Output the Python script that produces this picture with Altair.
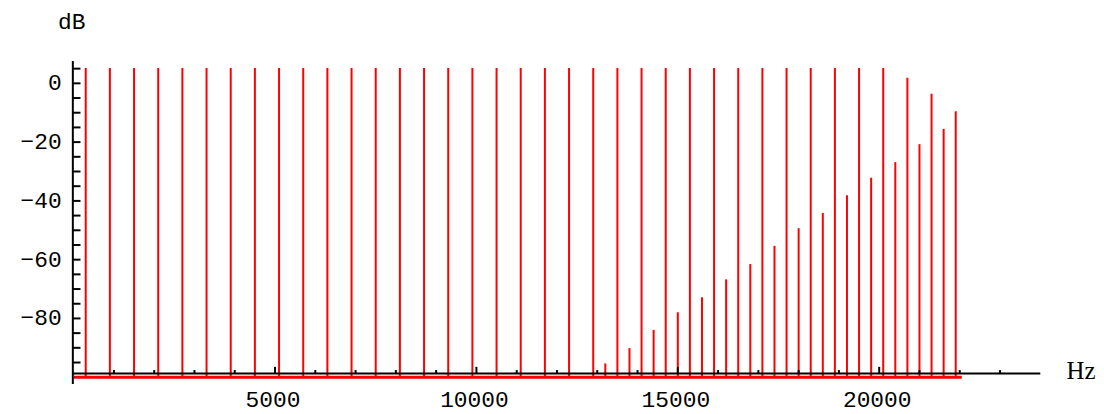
import altair as alt
import pandas as pd

# ---- data ----
main_freq = [300, 900, 1500, 2100, 2700, 3300, 3900, 4500, 5100, 5700,
             6300, 6900, 7500, 8100, 8700, 9300, 9900, 10500, 11100, 11700,
             12300, 12900, 13500, 14100, 14700, 15300, 15900, 16500, 17100,
             17700, 18300, 18900, 19500, 20100, 20700, 21300, 21900]
main_db = [5.2, 5.2, 5.2, 5.2, 5.2, 5.2, 5.2, 5.2, 5.2, 5.2,
           5.2, 5.2, 5.2, 5.2, 5.2, 5.2, 5.2, 5.2, 5.2, 5.2,
           5.2, 5.2, 5.2, 5.2, 5.2, 5.2, 5.2, 5.2, 5.2,
           5.2, 5.2, 5.2, 5.2, 5.2, 1.9, -3.5, -9.5]
alias_freq = [13200, 13800, 14400, 15000, 15600, 16200, 16800, 17400,
              18000, 18600, 19200, 19800, 20400, 21000, 21600]
alias_db = [-95.3, -90.1, -83.9, -77.9, -72.8, -66.7, -61.5, -55.3,
            -49.3, -44.1, -38.1, -32.1, -26.8, -20.7, -15.5]
floor_db = -100.0
nyquist = 22050

x_major = [5000, 10000, 15000, 20000]
x_labels = ["5000", "10000", "15000", "20000"]
x_minor = [1000, 2000, 3000, 4000, 6000, 7000, 8000, 9000, 11000, 12000,
           13000, 14000, 16000, 17000, 18000, 19000, 21000, 22000, 23000]
y_ticks = [5, 0, -5, -10, -15, -20, -25, -30, -35, -40, -45, -50, -55,
           -60, -65, -70, -75, -80, -85, -90, -95]
y_label_vals = [0, -20, -40, -60, -80]
y_label_text = ["0", "\u221220", "\u221240", "\u221260", "\u221280"]

# ---- styling constants ----
axis_y = -98.77
xs = alt.Scale(domain=[0, 24000], nice=False, zero=False)
ys = alt.Scale(domain=[-103, 8], nice=False, zero=False)
RED = "#ff0000"
FONT = "Liberation Mono"

spikes = pd.DataFrame({
    "f": main_freq + alias_freq,
    "db": main_db + alias_db,
    "lo": [floor_db] * (len(main_freq) + len(alias_freq)),
})

base_df = pd.DataFrame({"f0": [0], "f1": [nyquist], "y": [floor_db]})
xaxis_df = pd.DataFrame({"f0": [-20], "f1": [24000], "y": [axis_y]})
yaxis_df = pd.DataFrame({"f": [-20], "y0": [-102.3], "y1": [7.6]})
xmaj_df = pd.DataFrame({"f": x_major, "y0": [axis_y] * 4, "y1": [axis_y + 2.3] * 4, "t": x_labels})
xmin_df = pd.DataFrame({"f": x_minor, "y0": [axis_y] * len(x_minor), "y1": [axis_y + 1.2] * len(x_minor)})
ytick_df = pd.DataFrame({"f0": [-20] * len(y_ticks), "f1": [170] * len(y_ticks), "y": y_ticks})
ylab_df = pd.DataFrame({"f": [0] * len(y_label_vals), "y": y_label_vals, "t": y_label_text})
one = pd.DataFrame({"a": [0]})

X = lambda fld: alt.X(fld, scale=xs, axis=None)
Y = lambda fld: alt.Y(fld, scale=ys, axis=None)

baseline = alt.Chart(base_df).mark_rule(color=RED, strokeWidth=3).encode(
    x=X("f0:Q"), x2="f1:Q", y=Y("y:Q"))
spike_layer = alt.Chart(spikes).mark_rule(color=RED, strokeWidth=2).encode(
    x=X("f:Q"), y=Y("lo:Q"), y2="db:Q")
xaxis = alt.Chart(xaxis_df).mark_rule(color="black", strokeWidth=2).encode(
    x=X("f0:Q"), x2="f1:Q", y=Y("y:Q"))
yaxis = alt.Chart(yaxis_df).mark_rule(color="black", strokeWidth=2).encode(
    x=X("f:Q"), y=Y("y0:Q"), y2="y1:Q")
xmaj = alt.Chart(xmaj_df).mark_rule(color="black", strokeWidth=2).encode(
    x=X("f:Q"), y=Y("y0:Q"), y2="y1:Q")
xmin = alt.Chart(xmin_df).mark_rule(color="black", strokeWidth=2).encode(
    x=X("f:Q"), y=Y("y0:Q"), y2="y1:Q")
yticks = alt.Chart(ytick_df).mark_rule(color="black", strokeWidth=2).encode(
    x=X("f0:Q"), x2="f1:Q", y=Y("y:Q"))
xlabels = alt.Chart(xmaj_df).mark_text(
    font=FONT, fontSize=23, color="black", align="center", baseline="middle", dy=27, dx=-2
).encode(x=X("f:Q"), y=Y("y0:Q"), text="t:N")
ylabels = alt.Chart(ylab_df).mark_text(
    font=FONT, fontSize=23, color="black", align="right", baseline="middle", dx=-12
).encode(x=X("f:Q"), y=Y("y:Q"), text="t:N")
db_label = alt.Chart(one).mark_text(
    text="dB", font=FONT, fontSize=23, color="black", align="center", baseline="middle"
).encode(x=alt.value(-2), y=alt.value(-38))
hz_label = alt.Chart(one).mark_text(
    text="Hz", font="Liberation Serif", fontSize=25, color="black", align="center", baseline="middle"
).encode(x=alt.value(1013), y=alt.value(313))

chart = alt.layer(
    baseline, spike_layer, xaxis, yaxis, xmaj, xmin, yticks,
    xlabels, ylabels, db_label, hz_label
).properties(
    width=972, height=328,
    padding={"left": 66, "top": 51, "right": 56, "bottom": 26},
    autosize=alt.AutoSizeParams(type="none"),
    background="white",
).configure_view(stroke=None)

chart.save("out.html", embed_options={"renderer": "svg", "actions": False})
